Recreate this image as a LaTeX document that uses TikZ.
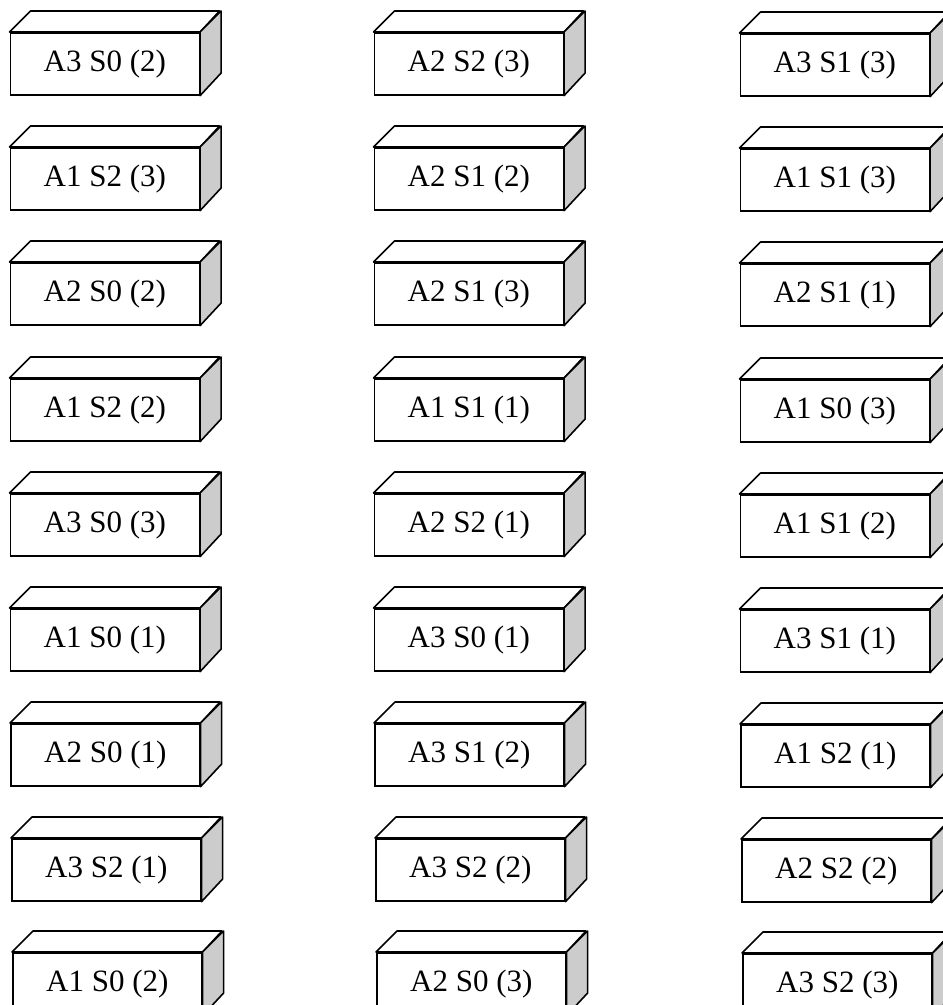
\documentclass[tikz,border=0pt]{standalone}
\usepackage{fontspec}
\setmainfont{Liberation Serif}
\begin{document}
\begin{tikzpicture}[x=1pt,y=-1pt,
  frontbox/.style={draw, line width=1.6pt, fill=white, rectangle, anchor=north west,
    minimum width=189pt, minimum height=62pt, inner sep=0pt,
    font=\fontsize{31}{36}\selectfont},
  topface/.style={draw, line width=1.6pt, fill=white, line join=round},
  sideface/.style={draw, line width=1.6pt, fill=black!20, line join=round}]
\useasboundingbox (0,0) rectangle (943,1005);
\clip (0,0) rectangle (943,1005);
\foreach \n/\x/\y/\t in {
  b11/9.5/32/{A3 S0 (2)}, b12/373.5/32/{A2 S2 (3)}, b13/739.5/33/{A3 S1 (3)},
  b21/9.5/147/{A1 S2 (3)}, b22/373.5/147/{A2 S1 (2)}, b23/739.5/148/{A1 S1 (3)},
  b31/9.5/262/{A2 S0 (2)}, b32/373.5/262/{A2 S1 (3)}, b33/739.5/263/{A2 S1 (1)},
  b41/9.5/378/{A1 S2 (2)}, b42/373.5/378/{A1 S1 (1)}, b43/739.5/379/{A1 S0 (3)},
  b51/9.5/493/{A3 S0 (3)}, b52/373.5/493/{A2 S2 (1)}, b53/739.5/494/{A1 S1 (2)},
  b61/9.5/608/{A1 S0 (1)}, b62/373.5/608/{A3 S0 (1)}, b63/739.5/609/{A3 S1 (1)},
  b71/10/723/{A2 S0 (1)}, b72/374/723/{A3 S1 (2)}, b73/740/724/{A1 S2 (1)},
  b81/11/838/{A3 S2 (1)}, b82/375/838/{A3 S2 (2)}, b83/741/839/{A2 S2 (2)},
  b91/12/952/{A1 S0 (2)}, b92/376/952/{A2 S0 (3)}, b93/742/953/{A3 S2 (3)}}
{
  \node[frontbox] (\n) at (\x,\y) {\t};
  \draw[topface] (\n.north west) -- ++(21,-21) -- ++(189,0) -- (\n.north east) -- cycle;
  \draw[sideface] (\n.north east) -- ++(21,-21) -- ++(0,62) -- (\n.south east) -- cycle;
}
\end{tikzpicture}
\end{document}
